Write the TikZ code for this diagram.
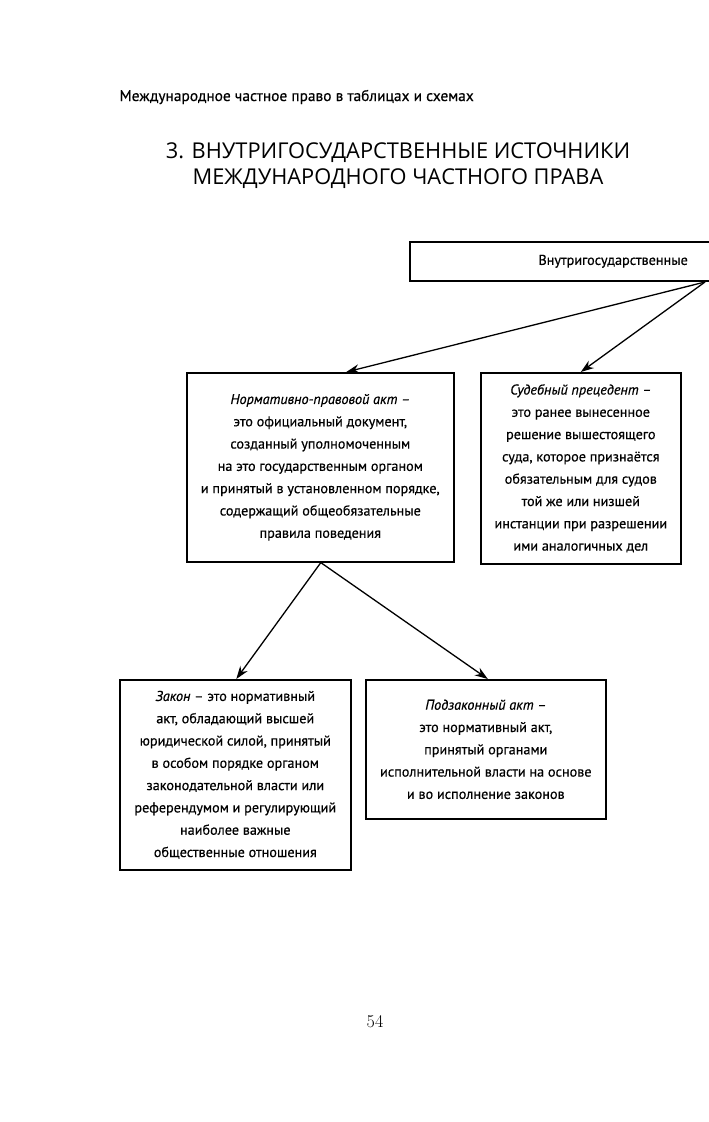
\documentclass[tikz,border=0pt]{standalone}
\usepackage{fontspec}
\setmainfont{PT Sans}[FakeBold=0.5]
\newfontfamily\titlefont{Open Sans}
\usetikzlibrary{arrows.meta,calc}
\begin{document}
\begin{tikzpicture}[x=1pt,y=-1pt,
  box/.style={draw,line width=1.6pt,align=center,font=\fontsize{14.2}{22.3}\selectfont,inner sep=0pt},
  arr/.style={line width=1.3pt,-{Stealth[length=13pt,width=9pt]}},
  ]
\useasboundingbox (0,0) rectangle (709,1122);
\node[anchor=west,font=\fontsize{15.4}{16}\selectfont] (hdr) at (116,97) {Международное частное право в таблицах и схемах};
\node[align=center,font=\titlefont\fontsize{21.8}{26}\selectfont] (title) at (398,166) {3. ВНУТРИГОСУДАРСТВЕННЫЕ ИСТОЧНИКИ\\МЕЖДУНАРОДНОГО ЧАСТНОГО ПРАВА};
\node[draw,line width=1.6pt,anchor=north west,minimum width=306pt,minimum height=39pt,inner xsep=28pt,text width=250pt,align=right,font=\fontsize{14.2}{18}\selectfont] (top) at (409,241) {Внутригосударственные};
\coordinate (src) at (705,282);
\node[box,anchor=north west,minimum width=267pt,minimum height=189pt] (npa) at (186,372) {\textit{Нормативно-правовой акт –}\\это официальный документ,\\созданный уполномоченным\\на это государственным органом\\и принятый в установленном порядке,\\содержащий общеобязательные\\правила поведения};
\node[box,anchor=north west,minimum width=200pt,minimum height=191pt] (sud) at (480,372) {\textit{Судебный прецедент –}\\это ранее вынесенное\\решение вышестоящего\\суда, которое признаётся\\обязательным для судов\\той же или низшей\\инстанции при разрешении\\ими аналогичных дел};
\node[box,anchor=north west,minimum width=231pt,minimum height=190pt] (zak) at (119,679) {\textit{Закон} – это нормативный\\акт, обладающий высшей\\юридической силой, принятый\\в особом порядке органом\\законодательной власти или\\референдумом и регулирующий\\наиболее важные\\общественные отношения};
\node[box,anchor=north west,minimum width=240pt,minimum height=139pt] (pod) at (365,679) {\textit{Подзаконный акт –}\\это нормативный акт,\\принятый органами\\исполнительной власти на основе\\и во исполнение законов};
\coordinate (nb) at ($(npa.south)+(0.5,0)$);
\draw[arr] (src) -- ($(npa.north)+(26,0)$);
\draw[arr] (src) -- ($(sud.north)+(0,0)$);
\draw[arr] (nb) -- ($(zak.north)+(1,0)$);
\draw[arr] (nb) -- ($(pod.north)+(2,0)$);
\node[font=\fontsize{18}{20}\selectfont] (pg) at (375,1022) {\fontspec{Latin Modern Roman}54};
\end{tikzpicture}
\end{document}
